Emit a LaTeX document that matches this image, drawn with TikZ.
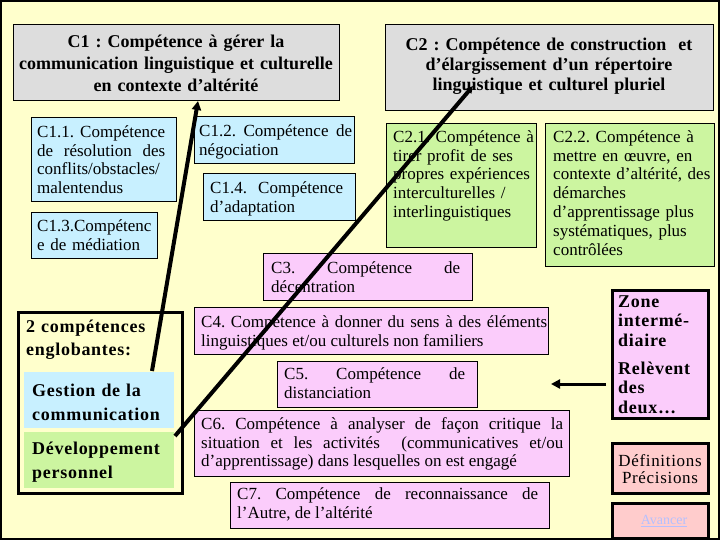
\documentclass[tikz,border=0pt]{standalone}
\usepackage{fontspec}
\setmainfont{Liberation Serif}
\newfontfamily\bigfont[LetterSpace=4]{Liberation Serif}
\usetikzlibrary{arrows.meta}
\definecolor{bgyellow}{HTML}{FFFFCC}
\definecolor{titlegray}{HTML}{DDDDDD}
\definecolor{cyanbox}{HTML}{C8F0FF}
\definecolor{greenbox}{HTML}{CCF5A0}
\definecolor{pinkbox}{HTML}{FBCCFB}
\definecolor{salmonbox}{HTML}{FFCCCC}
\definecolor{linkblue}{HTML}{B4C0FF}
\begin{document}
\frenchspacing
\begin{tikzpicture}[x=1pt,y=-1pt,
  rbox/.style={draw=black,line width=0.8pt,anchor=north west,inner sep=0pt,outer sep=0pt},
  flat/.style={anchor=north west,inner sep=0pt,outer sep=0pt},
  heavy/.style={draw=black,line width=3pt,anchor=north west,inner sep=0pt,outer sep=0pt},
  txt/.style={anchor=north west,inner sep=0pt,align=justify,font=\fontsize{17}{18.8}\selectfont,execute at begin node={\noindent\strut}},
  ltxt/.style={txt,align=left},
  ttl/.style={anchor=north,inner sep=0pt,align=center,font=\bfseries\fontsize{18}{22}\selectfont,execute at begin node={\noindent\strut}},
  bigtxt/.style={anchor=north west,inner sep=0pt,align=left,font=\bigfont\bfseries\fontsize{18}{24}\selectfont,execute at begin node={\noindent\strut}},
  conn/.style={line width=4pt,-{Triangle[length=9pt,width=9pt]}},
]
\useasboundingbox (0,0) rectangle (720,540);
\fill[bgyellow] (0,0) rectangle (720,540);

% titles
\node[rbox,fill=titlegray,minimum width=326pt,minimum height=76pt] (c1) at (13,24) {};
\node[ttl,text width=324pt] (c1t) at (176,31.6) {C1 : Compétence à gérer la\\communication linguistique et culturelle\\en contexte d’altérité};
\node[rbox,fill=titlegray,minimum width=328pt,minimum height=86pt] (c2) at (385,24) {};
\node[ttl,text width=324pt,font=\bfseries\fontsize{18}{20}\selectfont] (c2t) at (549,36) {C2 : Compétence de construction\ \ et\\d’élargissement d’un répertoire\\linguistique et culturel pluriel};

% C1 sub-boxes
\node[rbox,fill=cyanbox,minimum width=145pt,minimum height=84pt] (c11) at (31,117) {};
\node[txt,text width=128pt] (c11t) at (37,124) {C1.1. Compétence\linebreak de résolution des\linebreak conflits/obstacles/\\malentendus};
\node[rbox,fill=cyanbox,minimum width=160pt,minimum height=47pt] (c12) at (194,116) {};
\node[txt,text width=153pt] (c12t) at (199,123) {C1.2. Compétence de\linebreak négociation};
\node[rbox,fill=cyanbox,minimum width=126pt,minimum height=46pt] (c13) at (31,212) {};
\node[ltxt,text width=120pt] (c13t) at (37,218) {C1.3.Compétenc\\e de médiation};
\node[rbox,fill=cyanbox,minimum width=152pt,minimum height=47pt] (c14) at (203,173) {};
\node[txt,text width=133pt] (c14t) at (210,180) {C1.4. Compétence\linebreak d’adaptation};

% C2 sub-boxes
\node[rbox,fill=greenbox,minimum width=150pt,minimum height=124pt] (c21) at (386,123) {};
\node[ltxt,text width=148pt] (c21t) at (393,129) {C2.1. Compétence à\\tirer profit de ses\\propres expériences\\interculturelles /\\interlinguistiques};
\node[rbox,fill=greenbox,minimum width=169pt,minimum height=143pt] (c22) at (545,123) {};
\node[ltxt,text width=168pt] (c22t) at (553,129) {C2.2. Compétence à\\mettre en œuvre, en\\contexte d’altérité, des\\démarches\\d’apprentissage plus\\systématiques, plus\\contrôlées};

% C3 - C7
\node[rbox,fill=pinkbox,minimum width=209pt,minimum height=47pt] (c3) at (263,253) {};
\node[txt,text width=189pt] (c3t) at (271,260) {C3. Compétence de\linebreak décentration};
\node[rbox,fill=pinkbox,minimum width=354pt,minimum height=47pt] (c4) at (194,307) {};
\node[txt,text width=346pt] (c4t) at (201,314) {C4. Compétence à donner du sens à des éléments\linebreak linguistiques et/ou culturels non familiers};
\node[rbox,fill=pinkbox,minimum width=200pt,minimum height=46pt] (c5) at (277,361) {};
\node[txt,text width=181pt] (c5t) at (284,366) {C5. Compétence de\linebreak distanciation};
\node[rbox,fill=pinkbox,minimum width=375pt,minimum height=66pt] (c6) at (194,410) {};
\node[txt,text width=362pt] (c6t) at (201,416) {C6. Compétence à analyser de façon critique la\linebreak situation et les activités\ \ (communicatives et/ou\linebreak d’apprentissage) dans lesquelles on est engagé};
\node[rbox,fill=pinkbox,minimum width=319pt,minimum height=46pt] (c7) at (230,482) {};
\node[txt,text width=301pt] (c7t) at (237,486) {C7. Compétence de reconnaissance de\linebreak l’Autre, de l’altérité};

% englobantes
\node[heavy,fill=bgyellow,minimum width=164pt,minimum height=181pt] (eng) at (18,312) {};
\node[bigtxt,text width=150pt,font=\bigfont\bfseries\fontsize{18}{23}\selectfont] (engt) at (26,316) {2 compétences\\englobantes:};
\node[flat,fill=cyanbox,minimum width=150pt,minimum height=56pt] (gest) at (24,372) {};
\node[bigtxt,text width=140pt] (gestt) at (32,379) {Gestion de la\\communication};
\node[flat,fill=greenbox,minimum width=150pt,minimum height=56pt] (dev) at (24,432) {};
\node[bigtxt,text width=140pt] (devt) at (32,437) {Développement\\personnel};

% right column
\node[heavy,fill=pinkbox,minimum width=96pt,minimum height=128pt] (zone) at (612,290) {};
\node[bigtxt,text width=88pt,font=\bigfont\bfseries\fontsize{18}{19.5}\selectfont] (zonet) at (618,293.4) {Zone\\intermé-\\diaire\\[8.5pt]Relèvent\\des\\deux…};
\node[heavy,fill=salmonbox,minimum width=96pt,minimum height=50pt] (defs) at (612,443) {};
\node[anchor=north,inner sep=0pt,align=center,text width=92pt,font=\bigfont\fontsize{17}{17.5}\selectfont,execute at begin node={\noindent\strut}] (defst) at (660,453.7) {Définitions\\Précisions};
\node[heavy,fill=salmonbox,minimum width=96pt,minimum height=35pt] (avan) at (612,503) {};
\node[inner sep=0pt,font=\fontsize{14}{16}\selectfont,text=linkblue] (avant) at (664,521) {\underline{Avancer}};

% connectors
\coordinate (l1s) at (152,371);
\coordinate (l1e) at (198,101);
\coordinate (l2s) at (175,436);
\coordinate (l2e) at (473,86);
\coordinate (l3s) at (606,384);
\coordinate (l3e) at (551,384);
\draw[conn] (l1s) -- (l1e);
\draw[line width=4pt,-{Triangle[length=7pt,width=7pt]}] (l2s) -- (l2e);
\draw[line width=3pt,-{Triangle[length=9pt,width=9pt]}] (l3s) -- (l3e);

\draw[line width=2pt] (1,1) rectangle (719,539);
\end{tikzpicture}
\end{document}
